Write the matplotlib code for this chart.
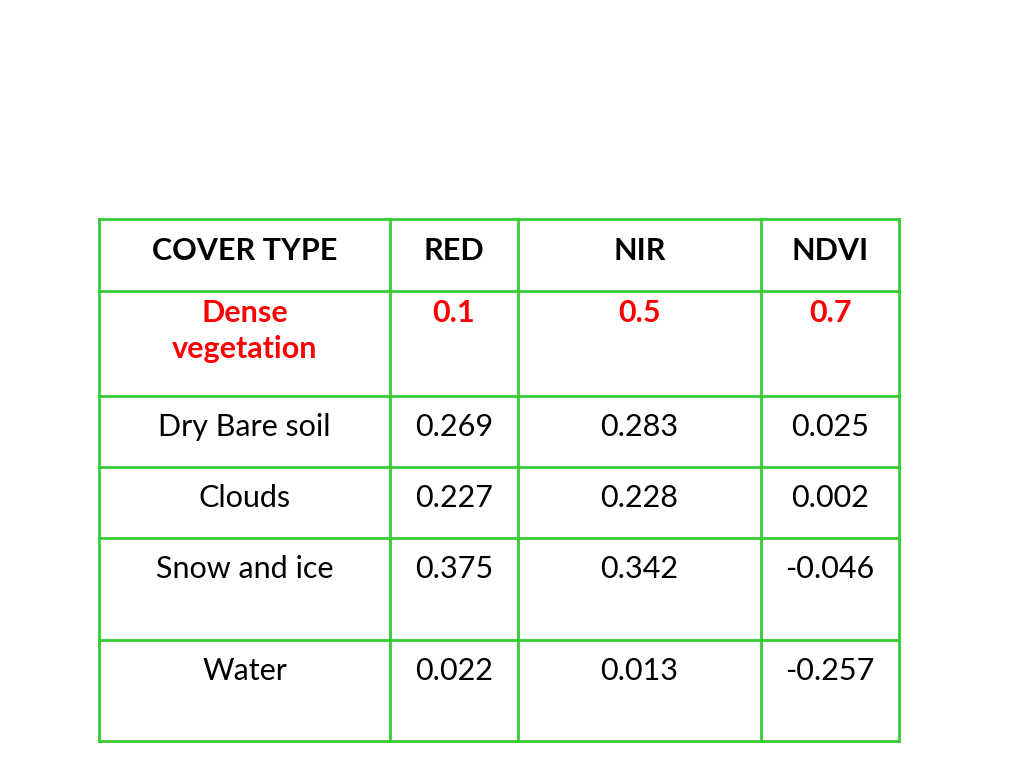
import matplotlib
matplotlib.use("Agg")
import matplotlib.pyplot as plt

headers = ["COVER TYPE", "RED", "NIR", "NDVI"]
cover_types = ["Dense\nvegetation", "Dry Bare soil", "Clouds", "Snow and ice", "Water"]
red = ["0.1", "0.269", "0.227", "0.375", "0.022"]
nir = ["0.5", "0.283", "0.228", "0.342", "0.013"]
ndvi = ["0.7", "0.025", "0.002", "-0.046", "-0.257"]

col_edges = [99, 390, 518, 761, 899]
row_edges = [219, 291, 396, 467, 538, 640, 741]
green = "#33CC33"
font = "Lato"
fs = 22

fig = plt.figure(figsize=(10.24, 7.68), dpi=100)
ax = fig.add_axes([0, 0, 1, 1])
ax.set_xlim(0, 1024)
ax.set_ylim(768, 0)
ax.axis("off")

for x in col_edges:
    ax.plot([x, x], [row_edges[0], row_edges[-1]], color=green, lw=2)
for y in row_edges:
    ax.plot([col_edges[0], col_edges[-1]], [y, y], color=green, lw=2)

centers = [(col_edges[i] + col_edges[i + 1]) / 2 for i in range(4)]
for c, h in zip(centers, headers):
    ax.text(c, row_edges[0] + 32, h, ha="center", va="center",
            fontsize=fs, fontweight="bold", family=font)

rows = list(zip(cover_types, red, nir, ndvi))
for r, vals in enumerate(rows):
    top = row_edges[r + 1]
    for c, v in zip(centers, vals):
        if r == 0:
            ax.text(c, top + 8, v, ha="center", va="top", fontsize=fs,
                    fontweight="bold", color="#FF0000", family=font,
                    linespacing=1.35)
        else:
            ax.text(c, top + 31, v, ha="center", va="center", fontsize=fs,
                    family=font)

fig.savefig("out.png", dpi=100)
